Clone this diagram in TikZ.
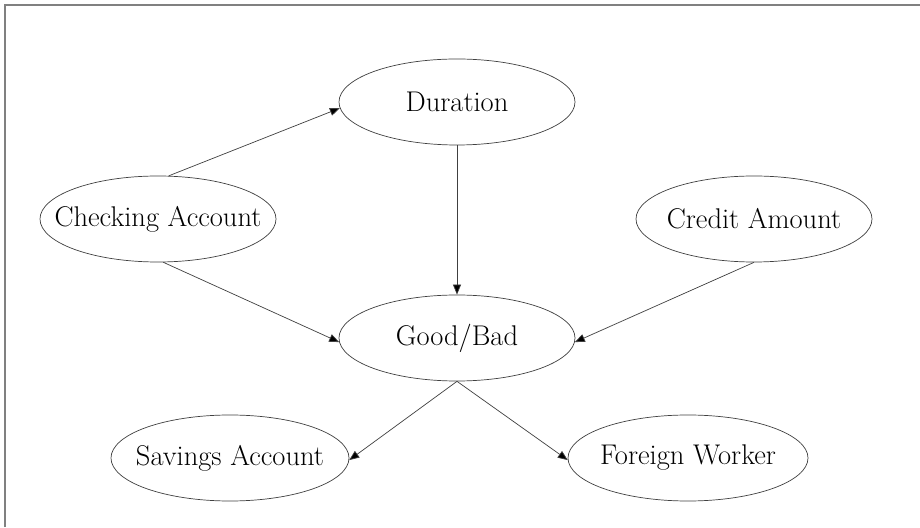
\documentclass[tikz,border=0pt]{standalone}
\usetikzlibrary{shapes.geometric,arrows.meta}
% label of fixed-size ellipse: zero-width box so the outline keeps its size
\newcommand{\varlabel}[1]{\makebox[0pt][c]{#1}}
\begin{document}
\begin{tikzpicture}[x=1pt,y=1pt,
  var/.style={ellipse,draw=black!75,line width=0.7pt,inner sep=0pt,
    minimum width=236pt,minimum height=86pt,
    font=\fontsize{28.5}{32}\selectfont},
  edge/.style={draw=black!75,line width=0.7pt,
    -{Triangle[length=10pt,width=8pt,fill=black]}}]
  % canvas and frame
  \useasboundingbox (0,0) rectangle (920,527);
  \fill[white] (0,0) rectangle (920,527);
  \draw[black!50,line width=1.6pt] (5,0) -- (5,522) -- (920,522);
  % variables
  \node[var] (du) at (457,425) {\varlabel{Duration}};
  \node[var] (ca) at (158,308) {\varlabel{Checking Account}};
  \node[var] (cr) at (754,308) {\varlabel{Credit Amount}};
  \node[var] (gb) at (457,189) {\varlabel{Good/Bad}};
  \node[var,minimum width=238pt] (sa) at (230,69) {\varlabel{Savings Account}};
  \node[var,minimum width=240pt] (fw) at (688,69) {\varlabel{Foreign Worker}};
  % dependencies
  \draw[edge] (ca.76) -- (du.183);
  \draw[edge] (ca.277) -- (gb.182);
  \draw[edge] (du.south) -- (gb.north);
  \draw[edge] (cr.south) -- (gb.358);
  \draw[edge] (gb.south) -- (sa.359);
  \draw[edge] (gb.south) -- (fw.181);
\end{tikzpicture}
\end{document}
